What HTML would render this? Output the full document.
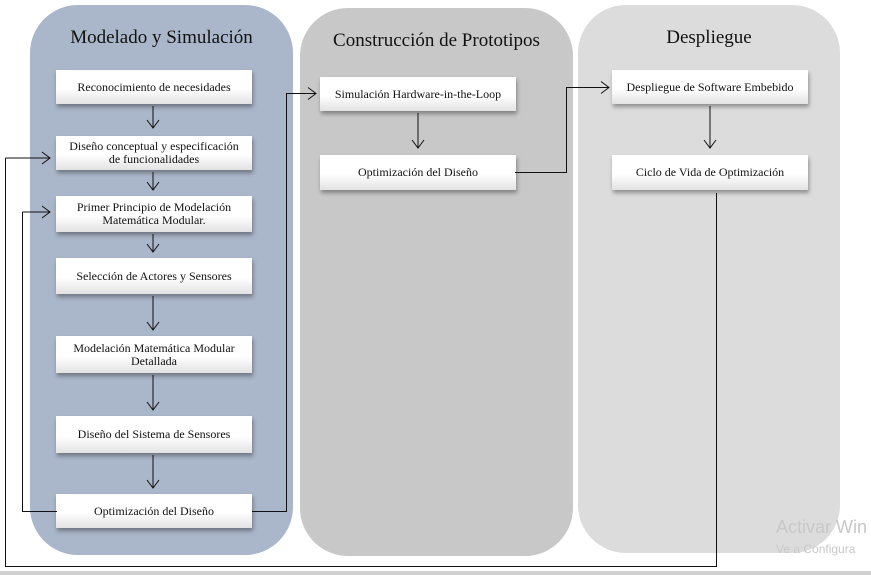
<!DOCTYPE html>
<html><head><meta charset="utf-8"><style>
body{margin:0;width:871px;height:575px;background:#fff;position:relative;overflow:hidden;font-family:"Liberation Serif",serif}
.p{position:absolute;border-radius:48px}
.t{position:absolute;text-align:center;font-size:19px;color:#111}
.b{position:absolute;width:196px;background:linear-gradient(#fff 55%,#e2e2e2);box-shadow:1px 3px 4px rgba(0,0,0,.35);display:flex;align-items:center;justify-content:center;text-align:center;font-size:12px;line-height:13px;color:#111}
</style></head><body>
<div class="p" style="left:30px;top:5px;width:263px;height:550px;background:#aab6c9"></div>
<div class="p" style="left:300px;top:8px;width:273px;height:548px;background:#c8c8c8"></div>
<div class="p" style="left:578px;top:5px;width:262px;height:548px;background:#dcdcdc"></div>
<div class="t" style="left:30px;width:263px;top:27px">Modelado y Simulación</div>
<div class="t" style="left:300px;width:273px;top:30px">Construcción de Prototipos</div>
<div class="t" style="left:578px;width:262px;top:27px">Despliegue</div>

<div class="b" style="left:56px;top:70px;height:34px">Reconocimiento de necesidades</div>
<div class="b" style="left:56px;top:136px;height:34px">Diseño conceptual y especificación<br>de funcionalidades</div>
<div class="b" style="left:56px;top:196px;height:36px">Primer Principio de Modelación<br>Matemática Modular.</div>
<div class="b" style="left:56px;top:258px;height:36px">Selección de Actores y Sensores</div>
<div class="b" style="left:56px;top:336px;height:37px">Modelación Matemática Modular<br>Detallada</div>
<div class="b" style="left:56px;top:416px;height:37px">Diseño del Sistema de Sensores</div>
<div class="b" style="left:56px;top:494px;height:34px">Optimización del Diseño</div>
<div class="b" style="left:320px;top:77px;height:34px">Simulación Hardware-in-the-Loop</div>
<div class="b" style="left:320px;top:155px;height:35px">Optimización del Diseño</div>
<div class="b" style="left:612px;top:70px;height:34px">Despliegue de Software Embebido</div>
<div class="b" style="left:612px;top:155px;height:35px">Ciclo de Vida de Optimización</div>

<svg width="871" height="575" style="position:absolute;left:0;top:0" fill="none" stroke="#111" stroke-width="1">
<g id="a">
<path d="M153 106V128M147 120L153 128L159 120"/>
<path d="M153 172V190M147 182L153 190L159 182"/>
<path d="M153 234V252M147 244L153 252L159 244"/>
<path d="M153 296V330M147 322L153 330L159 322"/>
<path d="M153 375V410M147 402L153 410L159 402"/>
<path d="M153 455V488M147 480L153 488L159 480"/>
<path d="M418 113V148M412 140L418 148L424 140"/>
<path d="M710 106V148M704 140L710 148L716 140"/>
</g>
<path d="M5.5 158H50M42 152L50 158L42 164"/>
<path d="M22.5 212H50M42 206L50 212L42 218"/>
<path d="M5.5 158V566.5H716.5V193"/>
<path d="M22.5 212V511.5H57"/>
<path d="M252 511.5H286.5V93.5H316M308 87.5L316 93.5L308 99.5"/>
<path d="M515 172.5H566.5V87.5H609M601 81.5L609 87.5L601 93.5"/>
</svg>
<div style="position:absolute;left:0;top:571px;width:871px;height:4px;background:#d0d0d0"></div>
<div style="position:absolute;left:776px;top:517px;font-family:'Liberation Sans',sans-serif;font-size:18px;color:#c8c8c8;white-space:nowrap">Activar Win</div>
<div style="position:absolute;left:776px;top:542px;font-family:'Liberation Sans',sans-serif;font-size:12px;color:#c8c8c8;white-space:nowrap">Ve a Configura</div>
</body></html>
